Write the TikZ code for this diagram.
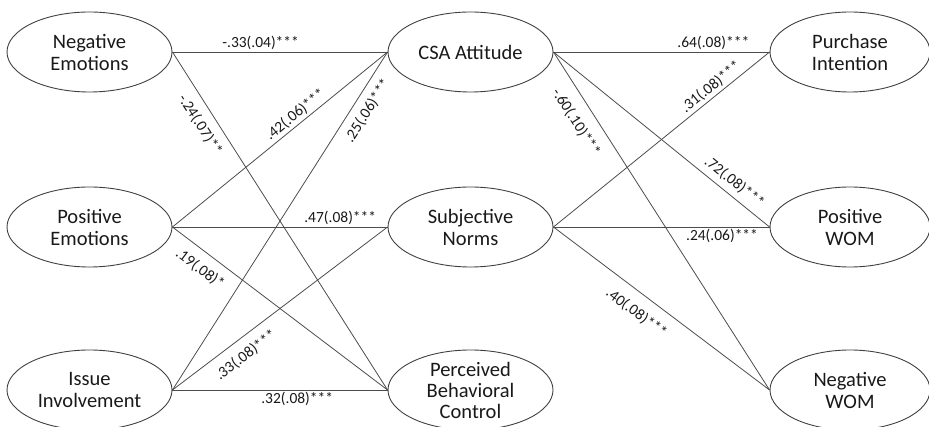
\documentclass[tikz,border=0pt]{standalone}
\usepackage{fontspec}
\setmainfont{Carlito}
\usetikzlibrary{shapes.geometric}
\begin{document}
\begin{tikzpicture}[x=1pt,y=-1pt,
 lv/.style={ellipse, draw=black!75, line width=0.9pt, minimum width=165pt, minimum height=80pt, inner sep=0pt, align=center, text=black!90, font=\fontsize{20.5}{22}\selectfont},
 rv/.style={lv, minimum width=160pt},
 pth/.style={draw=black!70, line width=0.8pt},
 lab/.style={font=\fontsize{15.5}{17}\selectfont, inner sep=1.5pt, text=black!90}]
\useasboundingbox (0,0) rectangle (929,427);
\node[lv] (ne) at (89.5,52) {Negative\\Emotions};
\node[lv] (pe) at (89.5,227) {Positive\\Emotions};
\node[lv] (ii) at (89.5,390) {Issue\\Involvement};
\node[lv] (csa) at (470.5,52) {CSA Attitude};
\node[lv] (sn) at (470.5,227) {Subjective\\Norms};
\node[lv, font=\fontsize{20.5}{21}\selectfont] (pbc) at (470.5,390) {Perceived\\Behavioral\\Control};
\node[rv] (pi) at (850,52) {Purchase\\Intention};
\node[rv] (pw) at (850,227) {Positive\\WOM};
\node[rv] (nw) at (850,390) {Negative\\WOM};

\path[pth] (ne.east) -- node[lab, pos=0.41, above] {-.33(.04)***} (csa.west);
\path[pth] (ne.east) -- node[lab, pos=0.19, below=7pt, sloped] {-.24(.07)**} (pbc.west);
\path[pth] (pe.east) -- node[lab, pos=0.6, above=1pt, sloped] {.42(.06)***} (csa.west);
\path[pth] (ii.east) -- node[lab, pos=0.85, below=6pt, sloped] {.25(.06)***} (csa.west);
\path[pth] (pe.east) -- node[lab, pos=0.78, above] {.47(.08)***} (sn.west);
\path[pth] (pe.east) -- node[lab, pos=0.175, below=8pt, sloped] {.19(.08)*} (pbc.west);
\path[pth] (ii.east) -- node[lab, pos=0.295, below=8pt, sloped] {.33(.08)***} (sn.west);
\path[pth] (ii.east) -- node[lab, pos=0.58, below] {.32(.08)***} (pbc.west);

\path[pth] (csa.east) -- node[lab, pos=0.74, above] {.64(.08)***} (pi.west);
\path[pth] (sn.east) -- node[lab, pos=0.757, above=1pt, sloped] {.31(.08)***} (pi.west);
\path[pth] (csa.east) -- node[lab, pos=0.8, above=4pt, sloped] {.72(.08)***} (pw.west);
\path[pth] (csa.east) -- node[lab, pos=0.177, below=10pt, sloped] {-.60(.10)***} (nw.west);
\path[pth] (sn.east) -- node[lab, pos=0.78, below] {.24(.06)***} (pw.west);
\path[pth] (sn.east) -- node[lab, pos=0.436, below=10pt, sloped] {.40(.08)***} (nw.west);
\end{tikzpicture}
\end{document}
